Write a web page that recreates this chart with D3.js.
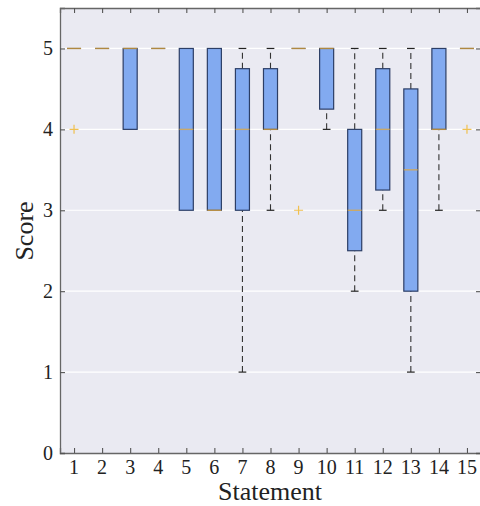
<!DOCTYPE html>
<html>
<head>
<meta charset="utf-8">
<script src="https://cdn.jsdelivr.net/npm/d3@7"></script>
<style>
  body { margin: 0; background: #fff; }
  svg { display: block; }
</style>
</head>
<body>
<svg id="chart" width="480" height="506"></svg>
<script>
// box stats per statement
const statements = [1, 2, 3, 4, 5, 6, 7, 8, 9, 10, 11, 12, 13, 14, 15]
const whiskerLow = [5, 5, 4, 5, 3, 3, 1, 3, 5, 4, 2, 3, 1, 3, 5]
const q1 = [5, 5, 4, 5, 3, 3, 3, 4, 5, 4.25, 2.5, 3.25, 2, 4, 5]
const median = [5, 5, 5, 5, 4, 3, 4, 4, 5, 5, 3, 4, 3.5, 4, 5]
const q3 = [5, 5, 5, 5, 5, 5, 4.75, 4.75, 5, 5, 4, 4.75, 4.5, 5, 5]
const whiskerHigh = [5, 5, 5, 5, 5, 5, 5, 5, 5, 5, 5, 5, 5, 5, 5]
const outliers = [[1, 4], [9, 3], [15, 4]]
const yTicks = [0, 1, 2, 3, 4, 5]

const serif = 'Liberation Serif'
const svg = d3.select('#chart')
const margin = { left: 60, top: 8, bottom: 453, right: 481 }

const x = d3.scaleLinear().domain([0.5, 15.5]).range([margin.left, margin.right])
const y = d3.scaleLinear().domain([0, 5.5]).range([margin.bottom, margin.top])
const boxW = x(1.25) - x(0.75)
const capW = boxW * 0.55

svg.append('rect')
  .attr('x', margin.left).attr('y', margin.top)
  .attr('width', margin.right - margin.left)
  .attr('height', margin.bottom - margin.top)
  .attr('fill', '#eaeaf2')

// grid
svg.append('g').selectAll('line').data(yTicks.slice(1)).join('line')
  .attr('x1', margin.left).attr('x2', margin.right)
  .attr('y1', (d) => y(d)).attr('y2', (d) => y(d))
  .attr('stroke', '#fff').attr('stroke-width', 1.2)

const boxes = svg.append('g').selectAll('g').data(statements).join('g')

boxes.each(function (s, i) {
  const g = d3.select(this)
  const cx = x(s)
  // dashed whiskers
  const segs = [[whiskerLow[i], q1[i]], [q3[i], whiskerHigh[i]]]
  segs.forEach(([a, b]) => {
    if (b - a <= 0) return
    g.append('line')
      .attr('x1', cx).attr('x2', cx)
      .attr('y1', y(a)).attr('y2', y(b))
      .attr('stroke', '#333').attr('stroke-width', 1.1)
      .attr('stroke-dasharray', '6,4')
  })
  ;[whiskerLow[i], whiskerHigh[i]].forEach((v, k) => {
    if ((k === 0 && v === q1[i]) || (k === 1 && v === q3[i])) return
    g.append('line')
      .attr('x1', cx - capW / 2).attr('x2', cx + capW / 2)
      .attr('y1', y(v)).attr('y2', y(v))
      .attr('stroke', '#222').attr('stroke-width', 1.2)
  })
  if (q1[i] === q3[i]) {
    g.append('line')
      .attr('x1', cx - boxW / 2).attr('x2', cx + boxW / 2)
      .attr('y1', y(q3[i])).attr('y2', y(q3[i]))
      .attr('stroke', '#2c3e66').attr('stroke-width', 1.2)
  } else {
    g.append('rect')
      .attr('x', cx - boxW / 2).attr('y', y(q3[i]))
      .attr('width', boxW).attr('height', y(q1[i]) - y(q3[i]))
      .attr('fill', '#82aaf0')
      .attr('stroke', '#2c3e66').attr('stroke-width', 1.2)
  }
  g.append('line')
    .attr('x1', cx - boxW / 2).attr('x2', cx + boxW / 2)
    .attr('y1', y(median[i])).attr('y2', y(median[i]))
    .attr('stroke', '#e8a830').attr('stroke-opacity', 0.7).attr('stroke-width', 1.4)
})

// outliers as + markers
svg.append('g').selectAll('path').data(outliers).join('path')
  .attr('d', (d) => {
    const px = x(d[0]), py = y(d[1])
    return `M${px - 4.5},${py}H${px + 4.5}M${px},${py - 4.5}V${py + 4.5}`
  })
  .attr('stroke', '#f0c050').attr('stroke-width', 1.2).attr('fill', 'none')

// axes: frame and inward ticks only, labels drawn separately below
const xAxisB = svg.append('g').attr('transform', `translate(0,${margin.bottom})`)
  .call(d3.axisBottom(x).tickValues(statements).tickSize(-5).tickFormat(''))
const xAxisT = svg.append('g').attr('transform', `translate(0,${margin.top})`)
  .call(d3.axisTop(x).tickValues(statements).tickSize(-5).tickFormat(''))
const yAxisL = svg.append('g').attr('transform', `translate(${margin.left},0)`)
  .call(d3.axisLeft(y).tickValues(yTicks).tickSize(-5).tickFormat(''))
const yAxisR = svg.append('g').attr('transform', `translate(${margin.right},0)`)
  .call(d3.axisRight(y).tickValues(yTicks).tickSize(-5).tickFormat(''))

;[xAxisB, xAxisT, yAxisL, yAxisR].forEach((a) => {
  a.select('.domain').attr('stroke', '#666').attr('stroke-width', 1.3)
  a.selectAll('.tick line').attr('stroke', '#555').attr('stroke-width', 1.1)
  a.selectAll('.tick text').remove()
})

svg.append('g').selectAll('text').data(statements).join('text')
  .attr('x', (d) => x(d)).attr('y', 474)
  .attr('text-anchor', 'middle')
  .attr('font-family', serif).attr('font-size', 20).attr('fill', '#222')
  .text((d) => d)

svg.append('g').selectAll('text').data(yTicks).join('text')
  .attr('x', 53).attr('y', (d) => y(d) + 7)
  .attr('text-anchor', 'end')
  .attr('font-family', serif).attr('font-size', 20).attr('fill', '#222')
  .text((d) => d)

svg.append('text')
  .attr('x', 270).attr('y', 500)
  .attr('text-anchor', 'middle')
  .attr('font-family', serif)
  .attr('font-size', 26)
  .attr('fill', '#222')
  .text('Statement')

svg.append('text')
  .attr('transform', 'translate(33,231) rotate(-90)')
  .attr('text-anchor', 'middle')
  .attr('font-family', serif)
  .attr('font-size', 26)
  .attr('fill', '#222')
  .text('Score')
</script>
</body>
</html>
